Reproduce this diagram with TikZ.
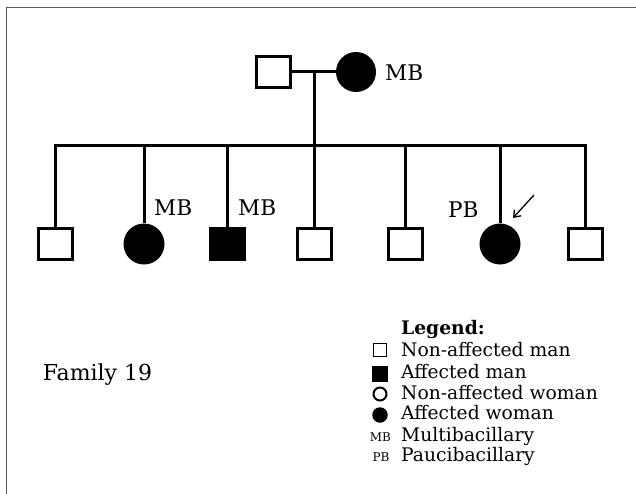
\documentclass[tikz,border=0pt]{standalone}
\usepackage{fontspec}
\setmainfont{DejaVu Serif}
\usepackage{tikz}
\usetikzlibrary{arrows.meta}

\begin{document}
\begin{tikzpicture}[x=1pt, y=-1pt,
        man/.style={draw, rectangle, line width=3pt, minimum width=34pt, minimum height=31pt, inner sep=0pt},
        aman/.style={man, fill=black},
        awoman/.style={circle, fill=black, minimum size=41pt, inner sep=0pt},
        line/.style={line width=3pt},
        lbl/.style={anchor=base west, inner sep=0pt, font=\fontsize{21.6}{26}\selectfont},
        leg/.style={anchor=base west, inner sep=0pt, font=\fontsize{18.7}{22}\selectfont}]

    \useasboundingbox (0,0) rectangle (636,494);
    \draw[line width=1.8pt, color=black!65] (6.5,494) -- (6.5,7.5) -- (636,7.5);

    % parents
    \node[man] (father) at (273,72) {};
    \node[awoman, minimum size=40pt] (mother) at (356,72) {};
    \node[lbl] (mbmother) at (385,81) {MB};
    \coordinate (mid) at (314,72);
    \coordinate (sib) at (314,146);
    \draw[line] (father.east) -- (mother.west);
    \draw[line] (mid) -- (sib);

    % children
    \foreach \n/\x/\k in {1/55.5/man, 2/144/awoman, 3/227/aman, 4/314/man, 5/405/man, 6/500/awoman, 7/585/man} {
        \node[\k] (c\n) at (\x,244) {};
    }
    \draw[line] (c1.north) -- (c1.north |- sib) -- (c7.north |- sib) -- (c7.north);
    \foreach \n in {2,...,6} {
        \draw[line] (c\n.north) -- (c\n.north |- sib);
    }
    \node[lbl] (mb2) at (154,215) {MB};
    \node[lbl] (mb3) at (238,215) {MB};
    \node[lbl] (pb6) at (448,218) {PB};
    \coordinate (arrtail) at (534,195);
    \coordinate (arrhead) at (513,218);
    \draw[line width=1.3pt, -{Straight Barb[length=6pt, width=9pt]}] (arrtail) -- (arrhead);

    \node[anchor=base west, inner sep=0pt, font=\fontsize{22}{26}\selectfont] (family) at (42.7,380.7) {Family 19};

    % legend
    \node[leg, font={\fontsize{18.7}{22}\selectfont\bfseries}] (legtitle) at (401,334) {Legend:};
    \node[man, line width=1.6pt, minimum width=13pt, minimum height=13pt] (kman) at (380,350) {};
    \node[aman, line width=0pt, minimum width=15pt, minimum height=15pt] (kaman) at (380,373.5) {};
    \node[draw, circle, line width=2pt, minimum size=13pt, inner sep=0pt] (kwoman) at (380,394) {};
    \node[awoman, minimum size=15.5pt] (kawoman) at (380,415) {};
    \node[anchor=base, inner sep=0pt, font=\fontsize{12}{14}\selectfont] (kmb) at (380.5,441) {MB};
    \node[anchor=base, inner sep=0pt, font=\fontsize{12}{14}\selectfont] (kpb) at (381,461) {PB};
    \node[leg] (tman) at (401,356) {Non-affected man};
    \node[leg] (taman) at (401,378) {Affected man};
    \node[leg] (twoman) at (401,399) {Non-affected woman};
    \node[leg] (tawoman) at (401,419.5) {Affected woman};
    \node[leg] (tmb) at (401,441) {Multibacillary};
    \node[leg] (tpb) at (401,461) {Paucibacillary};
\end{tikzpicture}
\end{document}
